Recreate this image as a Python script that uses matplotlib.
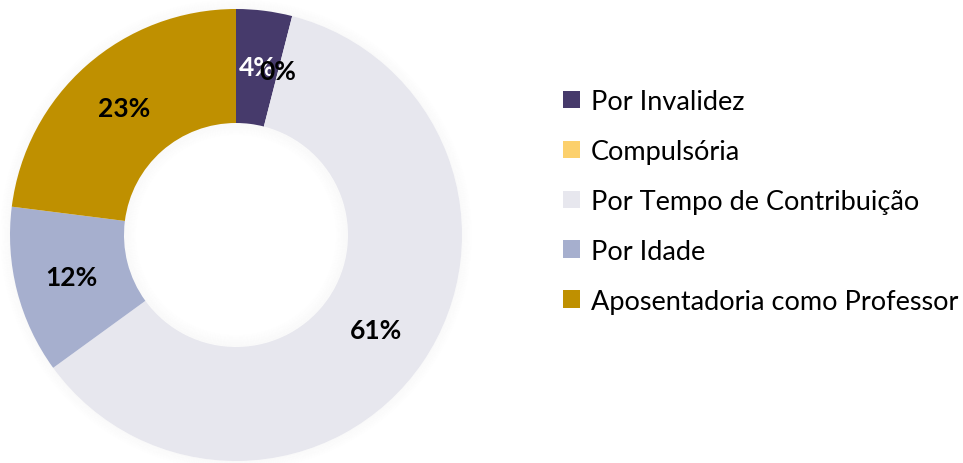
import numpy as np
import matplotlib
matplotlib.use("Agg")
import matplotlib.pyplot as plt
from matplotlib.patches import Wedge

plt.rcParams['font.family'] = ['Lato', 'DejaVu Sans']

categorias = ["Por Invalidez", "Compulsória", "Por Tempo de Contribuição",
              "Por Idade", "Aposentadoria como Professor"]
valores = [4, 0, 61, 12, 23]
cores = ["#463a6b", "#fcd06c", "#e7e7ee", "#a6afce", "#bf9000"]
cor_texto = ["white", "black", "black", "black", "black"]

fig = plt.figure(figsize=(9.63, 4.64), dpi=100)
ax = fig.add_axes([0, 0, 1, 1])

cx, cy = 236, 228
R = 226
w = 114

# sombra suave em volta do anel
for k in range(1, 12):
    ax.add_patch(Wedge((cx, cy), R + k, 0, 360, width=1.2,
                       color="#000000", alpha=0.018 * (12 - k) / 11, lw=0, zorder=0))
for k in range(1, 14):
    ax.add_patch(Wedge((cx, cy), R - w - k + 1, 0, 360, width=1.2,
                       color="#000000", alpha=0.02 * (14 - k) / 13, lw=0, zorder=3))

wedges, _ = ax.pie(valores, colors=cores, startangle=90, counterclock=False,
                   center=(cx, cy), radius=R,
                   wedgeprops=dict(width=w, linewidth=0), frame=True)
ax.set_xlim(0, 963)
ax.set_ylim(0, 464)
ax.axis("off")

# rótulos de porcentagem
total = sum(valores)
acum = 0
for v, c in zip(valores, cor_texto):
    meio = 90 - (acum + v / 2) / total * 360
    acum += v
    rr = R - w / 2 + 0.5
    ax.text(cx + rr * np.cos(np.radians(meio)), cy + rr * np.sin(np.radians(meio)),
            f"{v}%", ha="center", va="center", fontsize=19, fontweight="bold",
            color=c, zorder=5)

leg = ax.legend(wedges, categorias, loc="upper left", bbox_to_anchor=(563 / 963, 1 - 90 / 464),
                frameon=False, fontsize=19.5, handlelength=0.62, handleheight=0.62,
                handletextpad=0.4, labelspacing=0.92, borderaxespad=0, borderpad=0)

plt.savefig("out.png", dpi=100)
